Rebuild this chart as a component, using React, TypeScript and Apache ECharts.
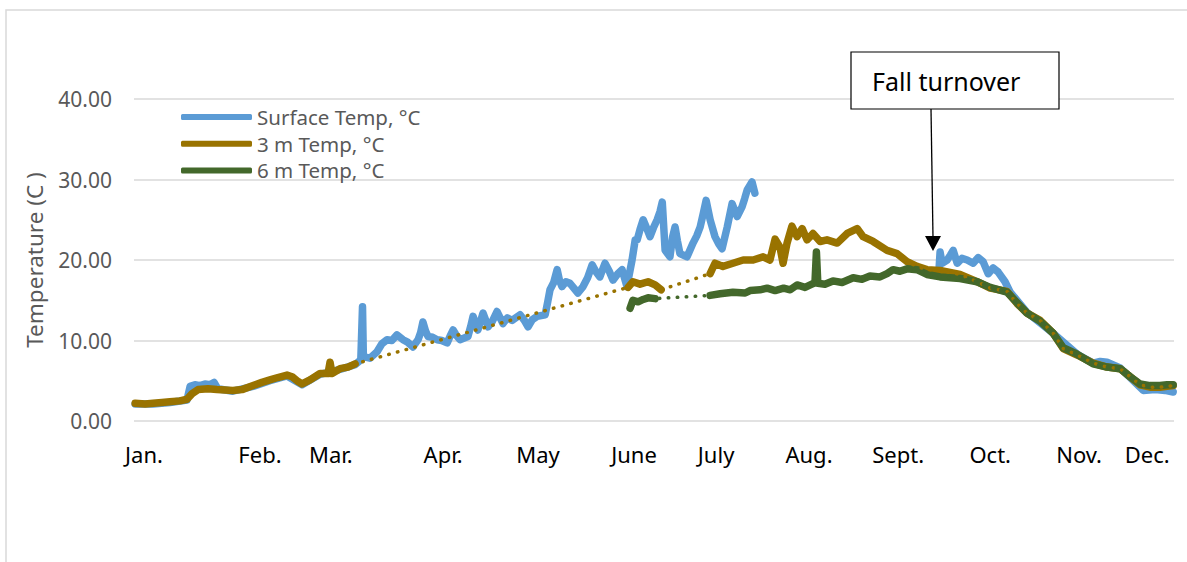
import React, { useEffect, useRef } from "react";
import * as echarts from "echarts";

// Month tick labels and their positions (day of year)
const monthNames = ["Jan.", "Feb.", "Mar.", "Apr.", "May", "June", "July", "Aug.", "Sept.", "Oct.", "Nov.", "Dec."];
const monthDays = [3.5, 44.2, 69.1, 108.5, 141.8, 175.5, 204.3, 236.9, 268.2, 300.5, 331.7, 355.6];

const seriesNames = ["Surface Temp, °C", "3 m Temp, °C", "6 m Temp, °C"];

// [day, °C]
const surfaceTemp: [number, number | null][] = [
  [0.4, 2.1], [6.7, 2.1], [12.6, 2.3], [18.6, 2.6], [19.7, 4.3], [21.4, 4.5], [23.2, 4.4], [24.9, 4.6],
  [26.7, 4.5], [28.1, 4.8], [29.4, 4.0], [34.7, 3.7], [41.8, 4.3], [47.7, 5.0], [53.7, 5.6], [59.0, 4.5],
  [65.3, 5.8], [72.3, 6.4], [77.6, 7.0], [79.6, 7.6], [80.2, 14.2], [80.5, 8.0],
  [82.8, 7.8], [85.3, 8.6], [87.0, 9.6], [88.8, 10.1], [90.5, 10.0], [92.3, 10.7], [94.4, 10.1], [96.0, 9.8],
  [97.9, 9.2], [99.7, 10.1], [100.6, 11.0], [101.4, 12.3], [102.3, 11.2], [103.2, 10.5], [104.8, 10.4],
  [106.4, 10.1], [108.0, 10.0], [109.9, 9.7], [111.0, 10.6], [112.0, 11.3], [113.2, 10.6], [114.4, 10.1],
  [117.2, 10.5], [118.2, 11.8], [119.0, 13.0], [120.7, 11.3], [122.5, 13.4], [124.3, 11.7], [125.8, 12.4],
  [127.4, 13.6], [129.5, 12.1], [131.0, 12.8], [132.7, 12.5], [135.5, 13.2], [137.0, 12.5], [138.3, 11.7],
  [139.8, 12.6], [141.5, 13.0], [144.3, 13.2], [145.2, 14.8], [146.0, 16.3], [147.3, 17.2], [148.5, 18.8],
  [149.3, 17.5], [150.2, 16.7], [151.6, 17.3], [153.0, 17.1], [155.8, 15.9], [157.6, 16.7], [159.2, 17.8],
  [160.8, 19.4], [162.2, 18.5], [163.5, 17.9], [165.3, 19.6], [166.8, 18.6], [168.1, 17.5], [169.8, 18.3],
  [171.3, 18.8], [173.0, 16.7], [174.8, 20.0], [175.9, 22.5], [176.6, 22.5], [177.6, 23.8], [178.7, 25.0],
  [180.0, 23.9], [181.1, 22.9], [182.3, 24.0], [183.6, 25.0], [184.6, 26.0], [185.4, 27.2], [186.4, 21.2],
  [188.1, 20.4], [189.0, 22.8], [189.9, 24.1], [190.7, 22.4], [191.6, 20.8], [194.1, 20.4], [196.2, 22.1],
  [197.5, 23.0], [198.7, 24.1], [199.8, 25.8], [200.8, 27.4], [202.2, 25.0], [203.9, 22.9], [205.2, 22.0],
  [206.4, 21.4], [208.2, 24.1], [209.9, 27.0], [211.7, 25.4], [213.4, 26.6], [214.3, 27.6], [215.2, 28.7],
  [216.9, 29.7], [217.9, 28.3],
  [250, null],
  [282.5, 18.6], [282.9, 21.0], [283.6, 19.6], [285.4, 20.0], [286.5, 20.6], [287.5, 21.2], [288.9, 19.6],
  [290.6, 20.2], [292.4, 20.0], [294.5, 19.6], [296.3, 20.3], [298.0, 19.8], [299.8, 18.3], [301.5, 19.0],
  [303.3, 18.5], [305.7, 17.3], [307.5, 16.0], [313.4, 13.5], [322.6, 10.9], [331.0, 8.3], [336.6, 7.2],
  [339.1, 7.4], [341.5, 7.3], [346.1, 6.6], [349.6, 5.4], [354.2, 3.8], [358.4, 3.9], [361.9, 3.8], [364.7, 3.6],
];

const threeMTemp: [number, number | null][] = [
  [0.4, 2.2], [3.9, 2.1], [6.7, 2.2], [9.8, 2.3], [12.6, 2.4], [16.1, 2.5], [18.6, 2.7], [20.4, 3.4],
  [22.5, 3.9], [26.0, 4.0], [29.1, 3.9], [31.9, 3.85], [34.7, 3.8], [37.9, 3.9], [41.8, 4.4], [44.9, 4.8],
  [47.7, 5.1], [50.5, 5.4], [53.7, 5.7], [55.5, 5.5], [57.6, 4.9], [59.0, 4.6], [61.8, 5.1], [65.3, 5.9],
  [68.1, 5.9], [68.8, 7.3], [69.5, 5.9], [72.3, 6.5], [75.1, 6.7], [77.6, 7.1],
  [125, null],
  [173.4, 16.6], [175.1, 17.3], [177.6, 17.0], [180.4, 17.3], [182.9, 16.9], [185.0, 16.3],
  [195, null],
  [202.2, 18.3], [203.9, 19.6], [206.7, 19.2], [210.2, 19.6], [213.8, 20.0], [217.3, 20.0], [220.8, 20.4],
  [223.2, 20.0], [225.0, 22.6], [226.7, 21.6], [227.8, 19.6], [229.2, 22.1], [230.9, 24.2], [232.7, 22.9],
  [234.5, 23.9], [236.2, 22.5], [238.3, 23.3], [240.8, 22.3], [243.2, 22.5], [246.8, 22.1], [250.3, 23.3],
  [253.8, 23.9], [255.9, 22.9], [259.4, 22.3], [264.3, 21.2], [267.8, 20.8], [271.3, 19.8], [274.8, 19.2],
  [278.3, 18.8], [282.9, 18.7], [289.9, 18.2], [295.9, 17.3], [300.5, 16.5], [306.4, 16.1], [309.9, 14.6],
  [313.4, 13.4], [318.0, 12.5], [322.6, 10.9], [326.1, 9.0], [331.0, 8.2], [336.6, 7.2], [341.5, 6.7],
  [346.1, 6.5], [349.6, 5.5], [353.1, 4.5], [356.6, 4.2], [360.1, 4.2], [362.6, 4.3], [364.7, 4.4],
];

const sixMTemp: [number, number | null][] = [
  [174.1, 14.0], [175.1, 15.0], [176.9, 14.8], [178.7, 15.1], [180.4, 15.3], [182.9, 15.2],
  [195, null],
  [202.2, 15.6], [205.7, 15.8], [210.2, 16.0], [214.5, 15.9], [216.2, 16.2], [219.7, 16.3], [222.2, 16.5],
  [225.0, 16.2], [228.0, 16.5], [230.3, 16.3], [232.7, 16.9], [235.5, 16.6], [237.9, 17.0], [239.0, 17.2],
  [239.5, 21.0], [240.0, 17.1], [242.5, 17.0], [245.3, 17.4], [248.5, 17.2], [252.4, 17.8], [255.5, 17.6],
  [258.3, 18.0], [261.8, 17.9], [264.3, 18.3], [266.4, 18.8], [268.8, 18.6], [271.3, 18.9], [274.8, 18.8],
  [278.3, 18.2], [282.9, 17.9], [289.9, 17.7], [295.9, 17.3], [300.5, 16.6], [306.4, 16.0], [309.9, 14.7],
  [313.4, 13.4], [318.0, 12.4], [322.6, 10.9], [326.1, 9.1], [331.0, 8.3], [336.6, 7.1], [341.5, 6.7],
  [346.1, 6.5], [349.6, 5.5], [353.1, 4.6], [356.6, 4.4], [360.1, 4.4], [362.6, 4.5], [364.7, 4.5],
];

const colors = ["#5B9BD5", "#997300", "#43682B"];
const FONT = "'Noto Sans', 'Open Sans', sans-serif";

export default function App() {
  const ref = useRef<HTMLDivElement>(null);
  useEffect(() => {
    document.body.style.margin = "0";
    const chart = echarts.init(ref.current!, null, { renderer: "svg" });
    const band = (i: number, data: [number, number | null][]) => ({
      type: "line",
      name: seriesNames[i],
      data,
      showSymbol: false,
      symbol: "none",
      connectNulls: false,
      z: 2,
      color: colors[i],
      lineStyle: { color: colors[i], width: 7.5, cap: "round", join: "round" },
    });
    const connector = (i: number, data: [number, number | null][]) => ({
      type: "line",
      name: seriesNames[i] + " (connector)",
      data: data.filter((p) => p[1] !== null),
      showSymbol: false,
      symbol: "none",
      z: 3,
      color: colors[i],
      lineStyle: { color: colors[i], width: 3.5, type: [0.5, 8.5], cap: "round" },
    });
    chart.setOption({
      animation: false,
      grid: { left: 134, top: 99, width: 1040, height: 322 },
      legend: {
        left: 181,
        top: 106,
        orient: "vertical",
        padding: 0,
        itemWidth: 71,
        itemHeight: 6,
        itemGap: 4.7,
        data: seriesNames.map((n) => ({ name: n, icon: "roundRect" })),
        textStyle: { fontFamily: FONT, fontSize: 20.5, lineHeight: 22, color: "#595959" },
      },
      xAxis: {
        type: "value",
        min: 0,
        max: 365,
        axisLine: { show: false },
        axisTick: { show: false },
        splitLine: { show: false },
        axisLabel: {
          customValues: monthDays,
          formatter: (v: number) => {
            const k = monthDays.indexOf(v);
            return k >= 0 ? monthNames[k] : "";
          },
          fontFamily: FONT,
          fontSize: 22,
          color: "#000",
          margin: 22,
        },
      },
      yAxis: {
        type: "value",
        min: 0,
        max: 40,
        interval: 10,
        name: "Temperature (C )",
        nameLocation: "middle",
        nameGap: 88,
        nameTextStyle: { fontFamily: FONT, fontSize: 22.5, color: "#595959" },
        axisLine: { show: false },
        axisTick: { show: false },
        splitLine: { lineStyle: { color: "#d9d9d9", width: 1.5 } },
        axisLabel: {
          formatter: (v: number) => v.toFixed(2),
          fontFamily: FONT,
          fontSize: 21,
          color: "#595959",
          margin: 22,
        },
      },
      series: [
        band(0, surfaceTemp),
        band(1, threeMTemp),
        band(2, sixMTemp),
        connector(1, threeMTemp),
        connector(2, sixMTemp),
      ],
      graphic: [
        {
          type: "rect",
          shape: { x: 6, y: 10, width: 1400, height: 800 },
          style: { fill: "none", stroke: "#d9d9d9", lineWidth: 1.5 },
          silent: true,
        },
        {
          type: "rect",
          shape: { x: 851, y: 52, width: 208, height: 57 },
          style: { fill: "#fff", stroke: "#000", lineWidth: 1.2 },
          z: 10,
        },
        {
          type: "text",
          x: 872,
          y: 81,
          style: { text: "Fall turnover", fontFamily: FONT, fontSize: 25, fill: "#000", verticalAlign: "middle" },
          z: 11,
        },
        {
          type: "line",
          shape: { x1: 931, y1: 109, x2: 933, y2: 238 },
          style: { stroke: "#000", lineWidth: 1.3 },
          z: 10,
        },
        {
          type: "polygon",
          shape: { points: [[925, 236], [941, 236], [933, 251]] },
          style: { fill: "#000" },
          z: 10,
        },
      ],
    });
    return () => chart.dispose();
  }, []);
  return <div ref={ref} style={{ width: 1187, height: 562 }} />;
}
